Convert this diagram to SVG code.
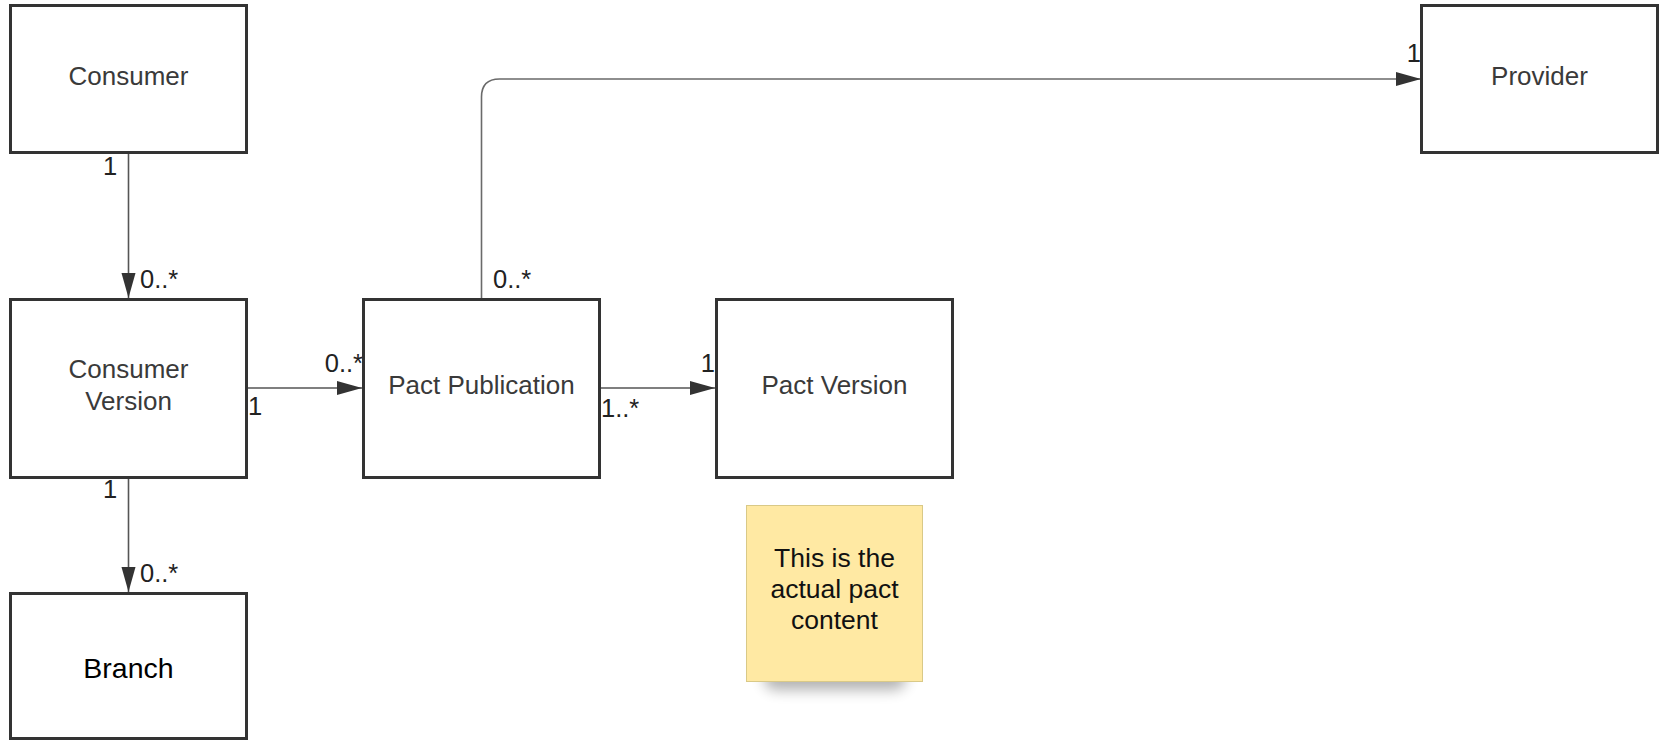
<svg xmlns="http://www.w3.org/2000/svg" width="1659" height="740" viewBox="0 0 1659 740">
  <style>
    .box { fill: #ffffff; stroke: #333333; stroke-width: 3; }
    .lbl { font-family: "Liberation Sans", Arial, sans-serif; font-size: 26px; fill: #3a3a3a; text-anchor: middle; }
    .dark { fill: #000000; font-size: 28.5px; }
    .mult { font-family: "Liberation Sans", Arial, sans-serif; font-size: 25.5px; fill: #222222; }
    .conn { fill: none; stroke: #555555; stroke-width: 1.6; }
    .note { fill: #ffe9a3; stroke: #d9c987; stroke-width: 1; }
    .ntxt { font-family: "Liberation Sans", Arial, sans-serif; font-size: 26.5px; fill: #111111; text-anchor: middle; }
  </style>
  <defs>
    <marker id="arrow" markerUnits="userSpaceOnUse" markerWidth="26" markerHeight="16" viewBox="0 0 26 16" refX="25" refY="8" orient="auto">
      <path d="M0,1 L25,8 L0,15 Z" fill="#333333"/>
    </marker>
    <filter id="shadow" x="-30%" y="-60%" width="160%" height="220%">
      <feGaussianBlur stdDeviation="7"/>
    </filter>
  </defs>
  <rect width="1659" height="740" fill="#ffffff"/>

  <g id="connectors">
    <line class="conn" x1="128.5" y1="153" x2="128.5" y2="298" marker-end="url(#arrow)"/>
    <line class="conn" x1="128.5" y1="478" x2="128.5" y2="592" marker-end="url(#arrow)"/>
    <line class="conn" x1="247" y1="388" x2="362" y2="388" marker-end="url(#arrow)"/>
    <line class="conn" x1="600" y1="388" x2="715" y2="388" marker-end="url(#arrow)"/>
    <path class="conn" d="M481.5,299 L481.5,97 Q481.5,79 499.5,79 L1421,79" marker-end="url(#arrow)" style="stroke:#6a6a6a"/>
    <text class="mult" x="103" y="175">1</text>
    <text class="mult" x="140" y="288">0..*</text>
    <text class="mult" x="363" y="372" text-anchor="end">0..*</text>
    <text class="mult" x="248" y="415">1</text>
    <text class="mult" x="103" y="498">1</text>
    <text class="mult" x="140" y="582">0..*</text>
    <text class="mult" x="493" y="288">0..*</text>
    <text class="mult" x="601" y="417">1..*</text>
    <text class="mult" x="715" y="372" text-anchor="end">1</text>
    <text class="mult" x="1421" y="62" text-anchor="end">1</text>
  </g>

  <g id="consumer">
    <rect class="box" x="10.5" y="5.5" width="236" height="147"/>
    <text class="lbl" x="128.5" y="85">Consumer</text>
  </g>
  <g id="consumer-version">
    <rect class="box" x="10.5" y="299.5" width="236" height="178"/>
    <text class="lbl" x="128.5" y="378">Consumer</text>
    <text class="lbl" x="128.5" y="410">Version</text>
  </g>
  <g id="branch">
    <rect class="box" x="10.5" y="593.5" width="236" height="145"/>
    <text class="lbl dark" x="128.5" y="678">Branch</text>
  </g>
  <g id="pact-publication">
    <rect class="box" x="363.5" y="299.5" width="236" height="178"/>
    <text class="lbl" x="481.5" y="394">Pact Publication</text>
  </g>
  <g id="pact-version">
    <rect class="box" x="716.5" y="299.5" width="236" height="178"/>
    <text class="lbl" x="834.5" y="394">Pact Version</text>
  </g>
  <g id="provider">
    <rect class="box" x="1421.5" y="5.5" width="236" height="147"/>
    <text class="lbl" x="1539.5" y="85">Provider</text>
  </g>
  <g id="note">
    <rect x="764" y="664" width="142" height="26" rx="12" fill="#000000" opacity="0.3" filter="url(#shadow)"/>
    <rect class="note" x="746.5" y="505.5" width="176" height="176"/>
    <text class="ntxt" x="834.5" y="567">This is the</text>
    <text class="ntxt" x="834.5" y="598">actual pact</text>
    <text class="ntxt" x="834.5" y="629">content</text>
  </g>
</svg>
